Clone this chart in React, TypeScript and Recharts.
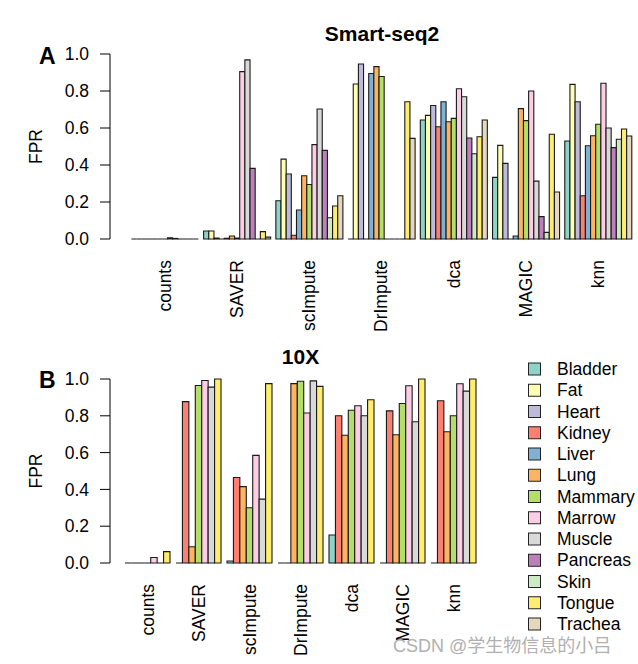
import React from "react";
import { Bar, BarChart, XAxis, YAxis } from "recharts";

const methods = ["counts", "SAVER", "scImpute", "DrImpute", "dca", "MAGIC", "knn"];

const smartTissues = [
  "Bladder", "Fat", "Heart", "Kidney", "Liver", "Lung", "Mammary",
  "Marrow", "Muscle", "Pancreas", "Skin", "Tongue", "Trachea",
];
const tenxTissues = ["Bladder", "Kidney", "Lung", "Mammary", "Marrow", "Muscle", "Tongue"];

const tissueColors: Record<string, string> = {
  Bladder: "#8DD3C7",
  Fat: "#FFFFB3",
  Heart: "#BEBADA",
  Kidney: "#FB8072",
  Liver: "#80B1D3",
  Lung: "#FDB462",
  Mammary: "#B3DE69",
  Marrow: "#FCCDE5",
  Muscle: "#D9D9D9",
  Pancreas: "#BC80BD",
  Skin: "#CCEBC5",
  Tongue: "#FFED6F",
  Trachea: "#E5D8BD",
};

// Smart-seq2 FPR, one array per method (order = smartTissues)
const smartCounts = [0, 0, 0, 0, 0, 0, 0, 0.006, 0.003, 0, 0, 0, 0];
const smartSaver = [0.043, 0.043, 0.005, 0, 0.004, 0.016, 0.005, 0.905, 0.968, 0.382, 0, 0.04, 0.01];
const smartScImpute = [0.207, 0.432, 0.351, 0.02, 0.157, 0.342, 0.295, 0.51, 0.703, 0.479, 0.115, 0.178, 0.234];
const smartDrImpute = [0, 0.838, 0.946, 0, 0.895, 0.932, 0.878, 0, 0, 0, 0, 0.742, 0.544];
const smartDca = [0.643, 0.668, 0.722, 0.607, 0.742, 0.634, 0.652, 0.812, 0.769, 0.546, 0.461, 0.553, 0.643];
const smartMagic = [0.333, 0.506, 0.409, 0, 0.016, 0.705, 0.64, 0.8, 0.313, 0.121, 0.036, 0.566, 0.254];
const smartKnn = [0.53, 0.836, 0.742, 0.234, 0.504, 0.558, 0.62, 0.842, 0.6, 0.494, 0.539, 0.595, 0.557];

// 10X FPR (order = tenxTissues)
const tenxCounts = [0, 0, 0, 0, 0.03, 0, 0.062];
const tenxSaver = [0, 0.877, 0.088, 0.965, 0.992, 0.956, 1.0];
const tenxScImpute = [0.011, 0.465, 0.415, 0.3, 0.585, 0.347, 0.975];
const tenxDrImpute = [0, 0, 0.975, 0.988, 0.815, 0.99, 0.96];
const tenxDca = [0.152, 0.8, 0.694, 0.83, 0.855, 0.8, 0.887];
const tenxMagic = [0, 0.827, 0.697, 0.867, 0.963, 0.768, 1.0];
const tenxKnn = [0, 0.882, 0.713, 0.8, 0.974, 0.934, 1.0];

const yTicks = [0, 0.2, 0.4, 0.6, 0.8, 1.0];

const FONT = '"Liberation Sans", Arial, Helvetica, sans-serif';

function buildRows(tissues: string[], values: number[][]) {
  return methods.map((m, i) => {
    const row: Record<string, string | number> = { method: m };
    tissues.forEach((t, j) => {
      row[t] = values[i][j];
    });
    return row;
  });
}

const smartRows = buildRows(smartTissues, [
  smartCounts, smartSaver, smartScImpute, smartDrImpute, smartDca, smartMagic, smartKnn,
]);
const tenxRows = buildRows(tenxTissues, [
  tenxCounts, tenxSaver, tenxScImpute, tenxDrImpute, tenxDca, tenxMagic, tenxKnn,
]);

// draws zero-height bars too, like R's barplot border
const BarShape = (p: any) => {
  const { x, y, width, height, fill } = p;
  if (x == null || y == null) return null;
  return (
    <path
      d={`M${x},${y}h${width}v${height}h${-width}Z`}
      fill={fill}
      stroke="#1a1a1a"
      strokeWidth={1.1}
    />
  );
};

const MethodTick = (p: any) => {
  const { x, y, payload } = p;
  return (
    <text
      x={x}
      y={y}
      transform={`rotate(-90 ${x} ${y})`}
      textAnchor="end"
      dy="0.35em"
      fontSize={17.5}
      fontFamily={FONT}
      fill="#000"
    >
      {payload.value}
    </text>
  );
};

function Panel({
  rows,
  tissues,
  barSize,
  padLeft,
  marginTop,
  marginRight,
  height,
}: {
  rows: Record<string, string | number>[];
  tissues: string[];
  barSize: number;
  padLeft: number;
  marginTop: number;
  marginRight: number;
  height: number;
}) {
  return (
    <BarChart
      width={638}
      height={height}
      data={rows}
      margin={{ top: marginTop, right: marginRight, bottom: 71, left: 50 }}
      barGap={0}
      barSize={barSize}
    >
      <XAxis
        dataKey="method"
        height={30}
        axisLine={false}
        tickLine={false}
        tickSize={0}
        tickMargin={21}
        interval={0}
        padding={{ left: padLeft, right: 0 }}
        tick={<MethodTick />}
      />
      <YAxis
        width={60}
        domain={[0, 1]}
        ticks={yTicks}
        tickFormatter={(v: number) => v.toFixed(1)}
        axisLine={{ stroke: "#000", strokeWidth: 1 }}
        tickLine={{ stroke: "#000", strokeWidth: 1 }}
        tickSize={10}
        tickMargin={11}
        tick={{ fontSize: 17.5, fontFamily: FONT, fill: "#000" }}
      />
      {tissues.map((t) => (
        <Bar
          key={t}
          dataKey={t}
          fill={tissueColors[t]}
          shape={<BarShape />}
          isAnimationActive={false}
        />
      ))}
    </BarChart>
  );
}

export default function App() {
  return (
    <div
      style={{
        position: "absolute",
        left: 0,
        top: 0,
        width: 638,
        height: 664,
        background: "#fff",
        fontFamily: FONT,
      }}
    >
      <div style={{ position: "absolute", left: 0, top: 0 }}>
        <Panel
          rows={smartRows}
          tissues={smartTissues}
          barSize={5.156}
          padLeft={18.4}
          marginTop={54}
          marginRight={4}
          height={340}
        />
      </div>
      <div style={{ position: "absolute", left: 0, top: 330 }}>
        <Panel
          rows={tenxRows}
          tissues={tenxTissues}
          barSize={6.43}
          padLeft={12}
          marginTop={49}
          marginRight={159}
          height={334}
        />
      </div>

      <svg
        width={638}
        height={664}
        style={{ position: "absolute", left: 0, top: 0, pointerEvents: "none" }}
        fontFamily={FONT}
      >
        <text x={382} y={40.5} textAnchor="middle" fontSize={21} fontWeight="bold">
          Smart-seq2
        </text>
        <text x={300.5} y={363.5} textAnchor="middle" fontSize={21} fontWeight="bold">
          10X
        </text>
        <text x={39} y={64} fontSize={23} fontWeight="bold">A</text>
        <text x={39} y={388} fontSize={23} fontWeight="bold">B</text>
        <text
          x={36}
          y={146.5}
          transform="rotate(-90 36 146.5)"
          textAnchor="middle"
          dy="0.35em"
          fontSize={17.5}
        >
          FPR
        </text>
        <text
          x={36}
          y={471}
          transform="rotate(-90 36 471)"
          textAnchor="middle"
          dy="0.35em"
          fontSize={17.5}
        >
          FPR
        </text>

        {smartTissues.map((t, i) => {
          const cy = 369 + i * 21.25;
          return (
            <g key={t}>
              <rect
                x={528.5}
                y={cy - 6}
                width={12}
                height={12}
                fill={tissueColors[t]}
                stroke="#222"
                strokeWidth={1}
              />
              <text x={557} y={cy} dy="0.35em" fontSize={17.5}>
                {t}
              </text>
            </g>
          );
        })}

        <text
          x={393}
          y={652}
          fontSize={18}
          fill="#b0b0b0"
          fontFamily={'"Liberation Sans", "Noto Sans CJK SC", sans-serif'}
        >
          CSDN @学生物信息的小吕
        </text>
      </svg>
    </div>
  );
}
